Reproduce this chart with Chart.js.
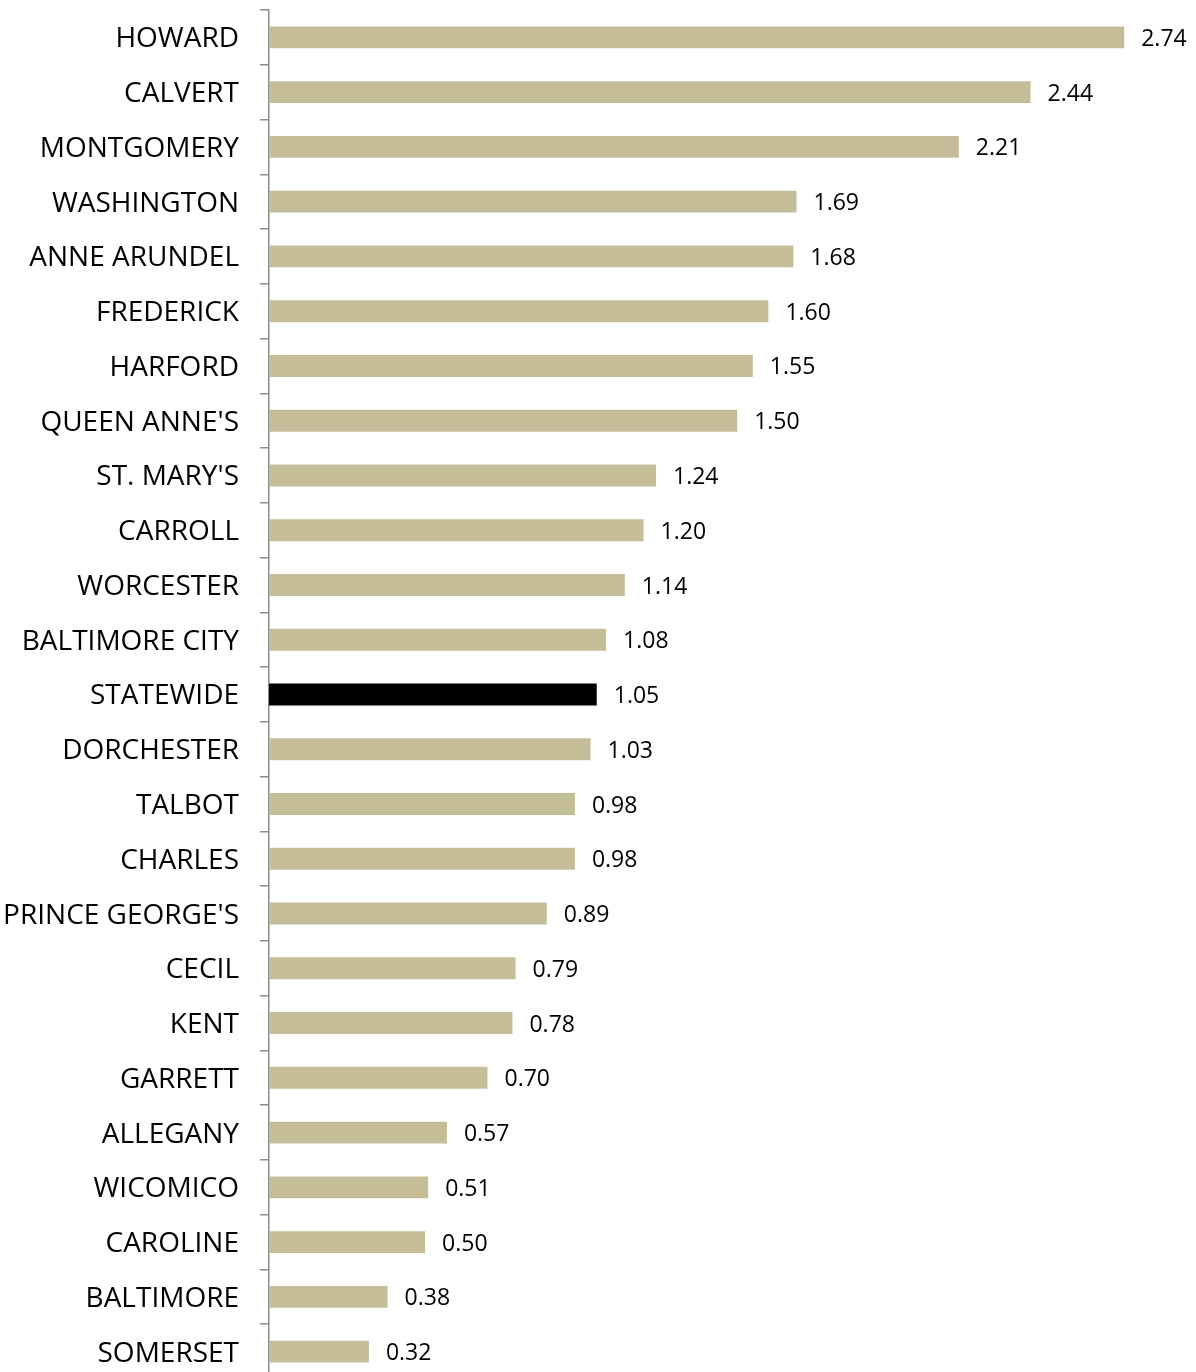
<!DOCTYPE html>
<html>
<head>
<meta charset="utf-8">
<script src="https://cdn.jsdelivr.net/npm/chart.js@4"></script>
<style>
  html, body { margin: 0; padding: 0; background: #fff; overflow: hidden; }
  #wrap { width: 1196px; height: 1379px; }
</style>
</head>
<body>
<div id="wrap"><canvas id="countyChart" width="1196" height="1379"></canvas></div>
<script>
let counties = [
    "HOWARD", "CALVERT", "MONTGOMERY", "WASHINGTON", "ANNE ARUNDEL",
    "FREDERICK", "HARFORD", "QUEEN ANNE'S", "ST. MARY'S", "CARROLL",
    "WORCESTER", "BALTIMORE CITY", "STATEWIDE", "DORCHESTER", "TALBOT",
    "CHARLES", "PRINCE GEORGE'S", "CECIL", "KENT", "GARRETT",
    "ALLEGANY", "WICOMICO", "CAROLINE", "BALTIMORE", "SOMERSET"
]

let rates = [
    2.74, 2.44, 2.21, 1.69, 1.68,
    1.60, 1.55, 1.50, 1.24, 1.20,
    1.14, 1.08, 1.05, 1.03, 0.98,
    0.98, 0.89, 0.79, 0.78, 0.70,
    0.57, 0.51, 0.50, 0.38, 0.32
]

let highlight = "STATEWIDE"
let barColors = counties.map(c => c === highlight ? '#000000' : '#C4BD97')

// draws the value next to each bar
let valueLabels = {
    id: 'valueLabels',
    afterDatasetsDraw(chart) {
        let ctx = chart.ctx
        let meta = chart.getDatasetMeta(0)
        ctx.save()
        ctx.font = '23px "Open Sans"'
        ctx.fillStyle = '#000'
        ctx.textAlign = 'left'
        ctx.textBaseline = 'middle'
        meta.data.forEach((bar, i) => {
            ctx.fillText(rates[i].toFixed(2), bar.x + 17, bar.y + 2)
        })
        ctx.restore()
    }
}

let options = {
    responsive: false,
    animation: false,
    indexAxis: 'y',
    layout: {
        padding: { top: 10, right: 0, bottom: 0, left: 0 }
    },
    scales: {
        x: {
            display: false,
            min: 0,
            max: 2.97
        },
        y: {
            afterFit: scale => {
                scale.width = 269
                scale.paddingTop = 0
                scale.paddingBottom = 0
            },
            grid: {
                drawOnChartArea: false,
                drawTicks: true,
                tickLength: 9,
                color: '#8c8c8c',
                lineWidth: 1.5,
                offset: true
            },
            border: {
                display: true,
                color: '#8c8c8c',
                width: 1.5
            },
            ticks: {
                padding: 21,
                labelOffset: 2,
                color: '#000',
                font: { family: '"Open Sans"', size: 28 },
                autoSkip: false
            }
        }
    },
    plugins: {
        legend: { display: false },
        tooltip: { enabled: false }
    }
}

let countyChart = new Chart(document.getElementById("countyChart"), {
    type: 'bar',
    data: {
        labels: counties,
        datasets: [
            {
                data: rates,
                backgroundColor: barColors,
                borderWidth: 0,
                barPercentage: 0.4,
                categoryPercentage: 1.0
            }
        ]
    },
    options: options,
    plugins: [valueLabels]
});
</script>
</body>
</html>
